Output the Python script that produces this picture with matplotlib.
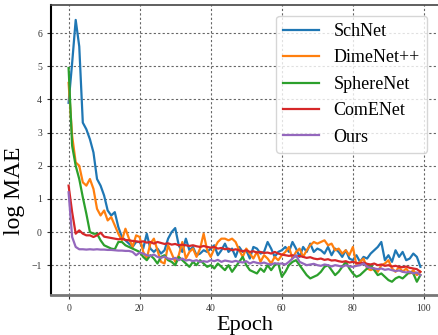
import matplotlib
matplotlib.use("Agg")
import matplotlib.pyplot as plt
import numpy as np

epochs = list(range(100))

schnet = [3.9, 5.1, 6.4, 5.6, 3.3, 3.1, 2.8, 2.4, 1.6, 1.4, 1.1, 0.65, 0.5, 0.6, 0.15, -0.15, -0.25, -0.35, -0.45, -0.3,
          -0.3, -0.5, -0.05, -0.5, -0.6, -0.5, -0.65, -0.55, -0.2, 0.0, 0.12, -0.4, -0.6, -0.2, -0.55, -0.45, -0.7, -0.65, -0.55, -0.6,
          -0.5, -0.4, -0.7, -0.55, -0.35, -0.6, -0.5, -0.75, -0.45, -0.6, -0.55, -0.8, -0.45, -0.5, -0.65, -0.6, -0.3, -0.5, -0.75, -0.6,
          -0.55, -0.45, -0.6, -0.3, -0.5, -0.75, -0.45, -0.6, -0.35, -0.6, -0.5, -0.55, -0.65, -0.45, -0.7, -0.5, -0.6, -0.75, -0.55, -0.8,
          -0.85, -0.7, -0.9, -0.75, -0.8, -0.65, -0.55, -0.45, -0.3, -0.85, -0.7, -0.9, -0.55, -0.75, -0.6, -0.85, -0.8, -0.65, -0.75, -1.05]

dimenet = [4.5, 2.9, 2.1, 2.0, 1.5, 1.4, 1.6, 1.3, 0.7, 0.5, 0.65, 0.35, 0.45, 0.2, -0.05, -0.25, 0.1, -0.2, -0.45, -0.1,
           -0.15, -0.6, -0.8, -0.35, -0.2, -0.55, -0.9, -0.95, -0.4, -0.65, -0.9, -0.7, -0.3, -0.8, -0.6, -0.5, -0.75, -0.5, -0.05, -0.55,
           -0.75, -0.5, -0.3, -0.2, -0.2, -0.25, -0.2, -0.3, -0.55, -0.75, -0.5, -0.65, -0.8, -0.6, -0.9, -0.7, -0.8, -0.95, -0.75, -0.85,
           -0.7, -0.6, -0.45, -0.8, -0.6, -0.5, -0.75, -0.55, -0.4, -0.3, -0.35, -0.3, -0.25, -0.4, -0.35, -0.55, -0.5, -0.65, -0.55, -0.7,
           -0.45, -1.0, -0.9, -0.8, -1.1, -1.15, -1.1, -1.2, -1.0, -0.95, -0.85, -1.1, -1.2, -1.05, -1.2, -1.1, -1.25, -1.15, -1.3, -1.2]

spherenet = [4.95, 2.6, 2.0, 1.6, 1.05, 0.55, 0.0, -0.05, -0.05, -0.25, -0.4, -0.45, -0.5, -0.52, -0.3, -0.3, -0.4, -0.45, -0.5, -0.55,
             -0.6, -0.75, -0.85, -0.7, -0.8, -0.95, -0.75, -0.7, -0.85, -0.9, -1.0, -0.75, -0.85, -0.95, -1.05, -0.9, -1.0, -0.85, -0.95, -1.05,
             -1.0, -1.1, -0.95, -1.05, -1.15, -1.0, -1.2, -1.05, -0.9, -0.75, -1.0, -1.15, -1.2, -1.25, -1.1, -1.2, -1.0, -1.15, -1.0, -0.95,
             -1.35, -1.2, -1.0, -0.9, -0.85, -1.0, -1.15, -1.3, -1.4, -1.35, -1.3, -1.2, -1.05, -1.0, -1.15, -1.3, -1.2, -1.05, -0.9, -1.1,
             -1.25, -1.35, -1.3, -1.2, -1.1, -1.0, -1.15, -1.3, -1.25, -1.35, -1.45, -1.5, -1.4, -1.35, -1.4, -1.3, -1.2, -1.25, -1.5, -1.3]

comenet = [1.4, 0.6, -0.05, 0.05, -0.05, -0.1, -0.1, -0.15, -0.1, -0.02, -0.14, -0.16, -0.18, -0.2, -0.22, -0.2, -0.24, -0.25, -0.27, -0.28,
           -0.3, -0.28, -0.32, -0.3, -0.35, -0.3, -0.33, -0.36, -0.34, -0.38, -0.36, -0.4, -0.38, -0.4, -0.42, -0.4, -0.43, -0.45, -0.42, -0.45,
           -0.47, -0.45, -0.5, -0.48, -0.52, -0.5, -0.55, -0.52, -0.55, -0.58, -0.55, -0.6, -0.58, -0.62, -0.6, -0.63, -0.62, -0.65, -0.6, -0.65,
           -0.68, -0.7, -0.72, -0.7, -0.74, -0.72, -0.75, -0.78, -0.76, -0.8, -0.82, -0.8, -0.84, -0.82, -0.86, -0.85, -0.88, -0.9, -0.88, -0.92,
           -0.9, -0.93, -0.95, -0.92, -0.96, -0.98, -0.95, -1.0, -0.98, -1.02, -1.0, -1.04, -1.02, -1.05, -1.06, -1.04, -1.08, -1.1, -1.12, -1.2]

ours = [1.2, -0.15, -0.45, -0.52, -0.52, -0.53, -0.52, -0.53, -0.52, -0.53, -0.53, -0.54, -0.54, -0.55, -0.56, -0.56, -0.57, -0.57, -0.6, -0.7,
        -0.62, -0.65, -0.7, -0.72, -0.68, -0.75, -0.78, -0.74, -0.8, -0.82, -0.78, -0.85, -0.8, -0.86, -0.84, -0.88, -0.85, -0.9, -0.88, -0.9,
        -0.85, -0.88, -0.84, -0.9, -0.86, -0.88, -0.9, -0.87, -0.9, -0.92, -0.88, -0.95, -0.9, -0.93, -0.95, -0.92, -0.96, -0.98, -0.94, -0.96,
        -0.95, -0.98, -0.9, -0.8, -0.7, -0.9, -0.95, -1.0, -0.98, -0.96, -1.0, -1.02, -0.98, -1.0, -1.04, -1.0, -1.02, -1.05, -1.0, -1.04,
        -1.05, -1.02, -1.0, -0.95, -1.05, -1.08, -1.1, -1.12, -1.1, -1.14, -1.12, -1.15, -1.18, -1.16, -1.2, -1.22, -1.2, -1.25, -1.22, -1.3]

series = [("SchNet", schnet, "#1f77b4"),
          ("DimeNet++", dimenet, "#ff7f0e"),
          ("SphereNet", spherenet, "#2ca02c"),
          ("ComENet", comenet, "#d62728"),
          ("Ours", ours, "#9467bd")]

plt.rcParams['font.family'] = ['Liberation Serif', 'DejaVu Serif']

fig = plt.figure(figsize=(4.38, 3.35), dpi=100)
ax = fig.add_axes([51/438, 40/335, 1 - 51/438, 290/335])

for name, vals, col in series:
    ax.plot(epochs, vals, color=col, lw=1.6, label=name)

ax.set_xlim(-4.95, 103.95)
ax.set_ylim(-1.9, 6.85)
ax.set_xticks([0, 20, 40, 60, 80, 100])
ax.set_yticks([-1, 0, 1, 2, 3, 4, 5, 6])
ax.tick_params(labelsize=7, length=3, colors='#333333')
ax.grid(True, color='#666666', linestyle=(0, (2, 2)), linewidth=0.8)

ax.spines['left'].set_color('black')
ax.spines['left'].set_linewidth(1.5)
ax.spines['bottom'].set_color('#777777')
ax.spines['bottom'].set_linewidth(2)
ax.spines['top'].set_color('#444444')
ax.spines['top'].set_linewidth(1.2)
ax.spines['right'].set_visible(False)

ax.set_xlabel("Epoch", fontsize=16)
ax.xaxis.set_label_coords(0.5, -0.072)
ax.set_ylabel("log MAE", fontsize=17)
ax.yaxis.set_label_coords(-0.066, 0.36)

leg = ax.legend(loc='upper right', fontsize=13, frameon=True, fancybox=True,
                borderaxespad=0.6, handlelength=2.0, labelspacing=0.52)
leg.get_frame().set_edgecolor('#cccccc')

fig.savefig("out.png", dpi=100)
